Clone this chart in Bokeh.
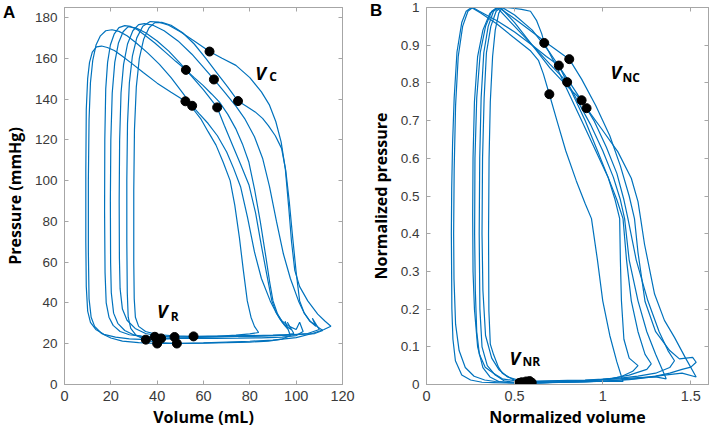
from bokeh.plotting import figure
from bokeh.layouts import row
from bokeh.models import Label, LinearAxis, FixedTicker, PrintfTickFormatter, Range1d, Div
from bokeh.embed import file_html
from bokeh.resources import INLINE

# ---------------- Panel A data (volume mL, pressure mmHg) ----------------
a_xticks = [0, 20, 40, 60, 80, 100, 120]
a_yticks = [0, 20, 40, 60, 80, 100, 120, 140, 160, 180]

a1_vol = [35.1, 28, 22, 17, 13.5, 11.2, 10, 9.4, 9.2, 9.2, 9.4, 10, 10.8, 12, 13.8, 16, 18.5, 21.5, 25, 29,
          34, 40, 46, 52.2, 55.6, 59, 62, 65.4, 68.5, 71.5, 73.5, 75.5, 77.2, 78.9, 80.5, 82, 83.8, 80, 74, 66,
          58, 50, 42, 35.1]
a1_prs = [22.0, 22.4, 23.2, 24.6, 27, 30.5, 36, 48, 70, 105, 135, 150, 158, 163, 165.6, 166, 165.3, 163.8, 161, 157.5,
          153, 147.8, 143.3, 138.9, 135, 130, 124, 117.4, 109, 100, 88, 72, 56, 41, 33, 28.5, 25.5, 24.8, 24.2, 23.6,
          23.1, 22.6, 22.2, 22.0]

a2_vol = [40.0, 32, 25, 20, 16, 13, 11.5, 10.6, 10.3, 10.3, 10.6, 11.2, 12.2, 13.6, 15.5, 17.8, 20.5, 23.5, 27, 31,
          36, 41, 46, 51, 55.1, 58, 62, 66, 70, 73, 76, 79, 82, 85, 88.8, 91, 93, 95, 96.5, 95.2,
          97.5, 94, 88, 80, 70, 60, 50, 40.0]
a2_prs = [20.1, 20.5, 21.3, 22.8, 25, 28.5, 33, 42, 65, 100, 130, 148, 159, 166.5, 171, 173.5, 174, 173.2, 171, 167.5,
          162.5, 157, 150.5, 143, 136.7, 133, 128, 122, 114, 106, 97, 82, 65, 52, 41, 36, 32, 29, 27, 31,
          24, 22.3, 21.3, 20.8, 20.5, 20.3, 20.2, 20.1]

a3_vol = [39.0, 33, 28, 24, 21, 19.2, 18, 17.5, 17.3, 17.4, 17.8, 18.6, 19.8, 21.5, 23.5, 26, 28.5, 31.5, 35, 39,
          43.5, 48, 52.4, 56, 59.8, 63.5, 66.9, 70.5, 73.9, 76.8, 79.6, 82, 84.5, 87, 88.6, 90, 92, 94, 96, 98,
          96.2, 99, 95, 88, 80, 70, 60, 50, 39.0]
a3_prs = [23.4, 23.7, 24.4, 26, 29, 33, 40, 55, 85, 120, 145, 158, 166.5, 172, 175, 176, 175.6, 174, 171, 167.5,
          163, 158.5, 154.3, 150.5, 146.7, 142.5, 138.5, 132.5, 125.5, 118, 109, 96, 80, 62, 50, 41, 34.5, 30.5, 28.3, 26.8,
          30.5, 25, 24.2, 23.9, 23.7, 23.6, 23.5, 23.4, 23.4]

a4_vol = [41.7, 36, 30, 26, 23, 21.2, 20.2, 19.9, 19.8, 20.0, 20.6, 21.7, 23.3, 25.3, 27.5, 31, 35, 40, 45, 50,
          55, 60, 65.9, 69, 72.5, 76, 79.6, 82.5, 85, 87.3, 89.5, 91.5, 94, 97, 100, 101.5, 103, 100, 94, 85,
          75, 65, 55, 48, 41.7]
a4_prs = [22.6, 23, 24.3, 26.5, 30, 35, 45, 60, 90, 120, 143, 158, 167.5, 173, 175.5, 174.8, 172.5, 168.5, 163.5, 157.5,
          151, 144.5, 135.9, 127, 117.5, 108, 98, 84, 68, 54, 41, 35, 31, 28.5, 27, 30.5, 26, 24, 23.2, 22.9,
          22.7, 22.6, 22.6, 22.6, 22.6]

a5_vol = [47.5, 41, 35, 30.5, 27, 25, 24, 23.7, 23.6, 23.8, 24.4, 25.5, 27.2, 29.5, 32, 34.5, 38, 43, 49, 55,
          60, 64.5, 69, 74, 78, 82, 85.5, 88.5, 91.5, 94.5, 97.5, 101, 103.5, 106, 108.5, 107, 110, 105, 96, 86,
          76, 66, 56, 47.5]
a5_prs = [23.3, 23.7, 25, 27.5, 31.5, 37, 47, 62, 90, 120, 143, 157, 167, 173.5, 176.5, 177, 176.3, 173.5, 168.5, 162,
          155.5, 149.6, 143.5, 136.5, 130, 121.5, 111, 97, 80, 64, 52, 41, 35, 31, 28.5, 32.5, 27, 25, 24.2, 23.8,
          23.6, 23.4, 23.3, 23.3]

a6_vol = [48.5, 41, 35, 31, 28.6, 27.5, 27.1, 26.9, 26.9, 27.2, 28, 29.3, 31.2, 33.8, 37, 40.5, 45, 50, 56, 62.6,
          68, 74, 80, 85, 88.5, 91.2, 93.5, 95.3, 96.7, 98, 99.4, 101.5, 105, 109.3, 112.5, 115, 112, 107, 100, 90,
          80, 70, 60, 48.5]
a6_prs = [20.1, 20.5, 21.8, 24, 27.5, 33, 45, 70, 100, 128, 148, 161, 170, 175.7, 178, 177.8, 176.2, 173, 168.5, 163.3,
          160, 156.5, 150.5, 143.5, 137, 129, 119, 106, 88, 70, 56, 48, 41, 34.5, 31, 28.6, 27, 25, 23, 21.8,
          21.2, 20.8, 20.4, 20.1]

a7_vol = [55.7, 47, 40, 35, 32, 30.6, 30.1, 29.9, 29.9, 30.2, 31, 32.3, 34.2, 36.5, 39, 42, 46, 51, 56, 61,
          66, 70.5, 74.9, 78.5, 82.3, 85.5, 88, 91, 93.7, 95.5, 97, 98.5, 100, 101.5, 103.5, 106, 109, 111.5, 108, 100,
          90, 80, 70, 62, 55.7]
a7_prs = [23.6, 23.9, 24.5, 26, 28.5, 33, 42, 60, 95, 125, 146, 160, 169.5, 175, 177.5, 177.6, 176.2, 172.5, 167, 160,
          152.5, 145.8, 139.0, 136.5, 133.7, 130.5, 127, 122, 115.8, 105, 90, 72, 55, 41, 35, 31, 28.5, 26.5, 25, 24.5,
          24.2, 24, 23.8, 23.7, 23.6]

ac_vol = [52.2, 55.1, 52.4, 65.9, 64.5, 62.6, 74.9]
ac_prs = [138.9, 136.7, 154.3, 135.9, 149.6, 163.3, 139.0]
ar_vol = [35.1, 40.0, 39.0, 41.7, 47.5, 48.5, 55.7]
ar_prs = [22.0, 20.1, 23.4, 22.6, 23.3, 20.1, 23.6]

# ---------------- Panel B data (normalized) ----------------
b_xticks = [0, 0.5, 1, 1.5]
b_yticks = [0, 0.1, 0.2, 0.3, 0.4, 0.5, 0.6, 0.7, 0.8, 0.9, 1]

b1_u = [0.525, 0.45, 0.38, 0.315, 0.25, 0.2, 0.164, 0.15, 0.144, 0.141, 0.143, 0.148, 0.157, 0.173, 0.2, 0.225, 0.255,
        0.305, 0.4, 0.493, 0.588, 0.635, 0.663, 0.697, 0.74, 0.79, 0.85, 0.9, 0.936, 0.97, 1.0, 1.04, 1.08, 1.115,
        1.05, 0.95, 0.85, 0.75, 0.65, 0.58, 0.525]
b1_P = [0.004, 0.004, 0.005, 0.006, 0.012, 0.025, 0.063, 0.12, 0.2, 0.4, 0.52, 0.64, 0.76, 0.882, 0.96, 0.99, 1.0,
        0.986, 0.956, 0.921, 0.886, 0.86, 0.824, 0.77, 0.7, 0.62, 0.54, 0.48, 0.44, 0.33, 0.222, 0.13, 0.06, 0.008,
        0.009, 0.008, 0.007, 0.006, 0.005, 0.004, 0.004]

b2_u = [0.54, 0.46, 0.39, 0.33, 0.27, 0.22, 0.185, 0.165, 0.156, 0.154, 0.157, 0.165, 0.18, 0.205, 0.235, 0.262,
        0.3, 0.4, 0.5, 0.6, 0.68, 0.751, 0.82, 0.9, 0.97, 1.03, 1.07, 1.096, 1.1, 1.106, 1.12, 1.15, 1.2, 1.17,
        1.1, 1.0, 0.9, 0.8, 0.7, 0.6, 0.54]
b2_P = [0.006, 0.006, 0.008, 0.012, 0.022, 0.045, 0.09, 0.16, 0.28, 0.4, 0.57, 0.74, 0.87, 0.95, 0.99, 1.0,
        0.99, 0.965, 0.935, 0.9, 0.87, 0.846, 0.78, 0.7, 0.62, 0.55, 0.49, 0.44, 0.33, 0.222, 0.12, 0.07, 0.05, 0.035,
        0.02, 0.012, 0.009, 0.008, 0.007, 0.006, 0.006]

b3_u = [0.555, 0.48, 0.41, 0.36, 0.32, 0.29, 0.272, 0.264, 0.262, 0.264, 0.272, 0.29, 0.32, 0.36, 0.4, 0.45, 0.49,
        0.54, 0.59, 0.625, 0.654, 0.668, 0.73, 0.8, 0.88, 0.96, 1.03, 1.08, 1.115, 1.135, 1.162, 1.2, 1.24, 1.275,
        1.25, 1.15, 1.05, 0.95, 0.85, 0.75, 0.65, 0.555]
b3_P = [0.003, 0.004, 0.008, 0.02, 0.045, 0.1, 0.2, 0.3, 0.45, 0.6, 0.75, 0.87, 0.94, 0.985, 0.998, 1.0, 0.998,
        0.995, 0.99, 0.965, 0.93, 0.906, 0.85, 0.78, 0.7, 0.62, 0.55, 0.49, 0.44, 0.33, 0.222, 0.14, 0.08, 0.055,
        0.04, 0.025, 0.016, 0.011, 0.008, 0.006, 0.004, 0.003]

b4_u = [0.565, 0.5, 0.43, 0.38, 0.333, 0.3, 0.285, 0.277, 0.273, 0.275, 0.285, 0.305, 0.335, 0.37, 0.4, 0.45, 0.5,
        0.6, 0.7, 0.798, 0.86, 0.93, 1.0, 1.06, 1.1, 1.124, 1.15, 1.2, 1.25, 1.3, 1.36, 1.3, 1.2, 1.1, 1.0, 0.9,
        0.8, 0.7, 0.62, 0.565]
b4_P = [0.008, 0.01, 0.015, 0.03, 0.046, 0.08, 0.14, 0.25, 0.4, 0.6, 0.76, 0.88, 0.95, 0.99, 1.0, 0.975, 0.95,
        0.9, 0.85, 0.802, 0.75, 0.69, 0.62, 0.55, 0.49, 0.44, 0.33, 0.222, 0.14, 0.08, 0.015, 0.02, 0.018, 0.015,
        0.013, 0.011, 0.01, 0.009, 0.008, 0.008]

b5_u = [0.575, 0.5, 0.44, 0.39, 0.345, 0.315, 0.303, 0.299, 0.302, 0.31, 0.325, 0.35, 0.38, 0.41, 0.5, 0.6, 0.7,
        0.81, 0.88, 0.96, 1.04, 1.1, 1.15, 1.18, 1.2, 1.24, 1.3, 1.38, 1.435, 1.51, 1.53, 1.5, 1.45, 1.38, 1.3,
        1.2, 1.1, 1.0, 0.9, 0.8, 0.7, 0.62, 0.575]
b5_P = [0.004, 0.005, 0.01, 0.025, 0.05, 0.1, 0.2, 0.4, 0.6, 0.76, 0.88, 0.95, 0.99, 1.0, 0.97, 0.935, 0.9,
        0.863, 0.81, 0.74, 0.66, 0.58, 0.5, 0.44, 0.35, 0.22, 0.14, 0.09, 0.068, 0.072, 0.059, 0.046, 0.04, 0.03,
        0.022, 0.016, 0.012, 0.009, 0.007, 0.006, 0.005, 0.004, 0.004]

b6_u = [0.585, 0.52, 0.46, 0.41, 0.37, 0.335, 0.32, 0.315, 0.318, 0.327, 0.34, 0.365, 0.395, 0.42, 0.5, 0.6, 0.7,
        0.8, 0.88, 0.95, 1.02, 1.08, 1.12, 1.143, 1.19, 1.256, 1.32, 1.37, 1.407, 1.38, 1.3, 1.2, 1.1, 1.0, 0.9,
        0.8, 0.7, 0.63, 0.585]
b6_P = [0.009, 0.012, 0.02, 0.04, 0.07, 0.13, 0.25, 0.4, 0.6, 0.76, 0.88, 0.95, 0.99, 1.0, 0.96, 0.9, 0.84,
        0.79, 0.754, 0.7, 0.63, 0.56, 0.49, 0.44, 0.33, 0.222, 0.14, 0.09, 0.063, 0.045, 0.03, 0.022, 0.017, 0.014,
        0.012, 0.011, 0.01, 0.009, 0.009]

b7_u = [0.597, 0.52, 0.484, 0.43, 0.408, 0.38, 0.362, 0.354, 0.352, 0.355, 0.362, 0.375, 0.39, 0.41, 0.43, 0.5,
        0.6, 0.7, 0.8, 0.908, 0.992, 1.086, 1.162, 1.2, 1.215, 1.237, 1.294, 1.35, 1.407, 1.47, 1.53, 1.45, 1.35,
        1.25, 1.15, 1.05, 0.95, 0.85, 0.75, 0.65, 0.597]
b7_P = [0.005, 0.007, 0.015, 0.03, 0.046, 0.08, 0.107, 0.195, 0.4, 0.6, 0.75, 0.87, 0.94, 0.985, 1.0, 0.98,
        0.94, 0.88, 0.81, 0.733, 0.679, 0.617, 0.547, 0.485, 0.44, 0.372, 0.24, 0.17, 0.125, 0.07, 0.02, 0.03, 0.025,
        0.018, 0.013, 0.01, 0.008, 0.007, 0.006, 0.005, 0.005]

bc_u = [0.697, 0.751, 0.668, 0.798, 0.81, 0.88, 0.908]
bc_P = [0.77, 0.846, 0.906, 0.802, 0.863, 0.754, 0.733]
br_u = [0.525, 0.54, 0.555, 0.565, 0.575, 0.585, 0.597]
br_P = [0.004, 0.006, 0.003, 0.008, 0.004, 0.009, 0.005]

# ---------------- styling ----------------
LINE = "#0072BD"
AXC = "#a6a6a6"
TICKC = "#3a3a3a"
TICK_FONT = "Liberation Sans"
LAB_FONT = "Open Sans"


def style_axis(ax, ticks, show_labels, size="13.5px", standoff=7):
    ax.ticker = FixedTicker(ticks=ticks)
    ax.formatter = PrintfTickFormatter(format="%g")
    ax.major_tick_in = 4
    ax.major_tick_out = 0
    ax.minor_tick_line_color = None
    ax.axis_line_color = AXC
    ax.major_tick_line_color = AXC
    ax.major_label_text_font = TICK_FONT
    ax.major_label_text_color = TICKC
    if show_labels:
        ax.major_label_text_font_size = size
        ax.major_label_standoff = standoff
    else:
        ax.major_label_text_font_size = "0px"
        ax.major_label_standoff = 0
        ax.major_label_text_alpha = 0


def make_fig(width, left, right, top_border, xr, yr, xticks, yticks, xlabel, ylabel):
    p = figure(width=width, height=431, x_range=Range1d(*xr), y_range=Range1d(*yr),
               output_backend="svg", toolbar_location=None,
               min_border_left=left, min_border_right=right, min_border_top=top_border,
               min_border_bottom=47)
    p.grid.visible = False
    p.outline_line_color = AXC
    p.background_fill_color = "white"
    p.border_fill_color = "white"
    xa, ya = p.xaxis[0], p.yaxis[0]
    style_axis(xa, xticks, True, "14.5px", 6)
    style_axis(ya, yticks, True, "13.5px", 7)
    for ax, lab, st in [(xa, xlabel, 2), (ya, ylabel, 6)]:
        ax.axis_label = lab
        ax.axis_label_text_font = LAB_FONT
        ax.axis_label_text_font_style = "bold"
        ax.axis_label_text_font_size = "16px"
        ax.axis_label_text_color = "black"
        ax.axis_label_standoff = st
    top = LinearAxis()
    style_axis(top, xticks, False)
    right_ax = LinearAxis()
    style_axis(right_ax, yticks, False)
    p.add_layout(top, "above")
    p.add_layout(right_ax, "right")
    return p


def add_text(p, x, y, text, size, style="bold", font=LAB_FONT):
    p.add_layout(Label(x=x, y=y, text=text, text_font=font, text_font_size=size,
                       text_font_style=style, text_color="black",
                       text_align="left", text_baseline="alphabetic"))


def panel_letter(letter, left, top):
    return Div(text=letter, width=20, height=22,
               styles={"position": "absolute", "left": f"{left}px", "top": f"{top}px",
                       "font-family": "Liberation Sans", "font-weight": "bold",
                       "font-size": "17px", "color": "black", "line-height": "20px",
                       "margin": "0", "padding": "0", "z-index": "10"})


# ---------------- Panel A ----------------
pa = make_fig(355, 59, 13, 5, (0, 120), (0, 184.9), a_xticks, a_yticks, "Volume (mL)", "Pressure (mmHg)")
for vx, py in [(a1_vol, a1_prs), (a2_vol, a2_prs), (a3_vol, a3_prs), (a4_vol, a4_prs),
               (a5_vol, a5_prs), (a6_vol, a6_prs), (a7_vol, a7_prs)]:
    pa.line(vx, py, line_color=LINE, line_width=1.2)
pa.scatter(ac_vol, ac_prs, size=9, color="black")
pa.scatter(ar_vol, ar_prs, size=9, color="black")

add_text(pa, 82.3, 153, "V", "18px", "bold italic")
add_text(pa, 88.4, 151.3, "C", "12px")
add_text(pa, 39.9, 36.1, "V", "18px", "bold italic")
add_text(pa, 45.9, 33.2, "R", "12px")

# ---------------- Panel B ----------------
pb = make_fig(354, 71, 1, 7, (0, 1.6), (0, 1), b_xticks, b_yticks, "Normalized volume", "Normalized pressure")
for ux, py in [(b1_u, b1_P), (b2_u, b2_P), (b3_u, b3_P), (b4_u, b4_P),
               (b5_u, b5_P), (b6_u, b6_P), (b7_u, b7_P)]:
    pb.line(ux, py, line_color=LINE, line_width=1.2)
pb.scatter(bc_u, bc_P, size=9, color="black")
pb.scatter(br_u, br_P, size=9, color="black")

add_text(pb, 1.044, 0.8285, "V", "18px", "bold italic")
add_text(pb, 1.112, 0.815, "NC", "12px")
add_text(pb, 0.471, 0.071, "V", "18px", "bold italic")
add_text(pb, 0.545, 0.061, "NR", "12px")

layout = row(pa, pb, panel_letter("A", 3, 3), panel_letter("B", 370, 1), spacing=0)
open("out.html", "w").write(file_html(layout, INLINE))
